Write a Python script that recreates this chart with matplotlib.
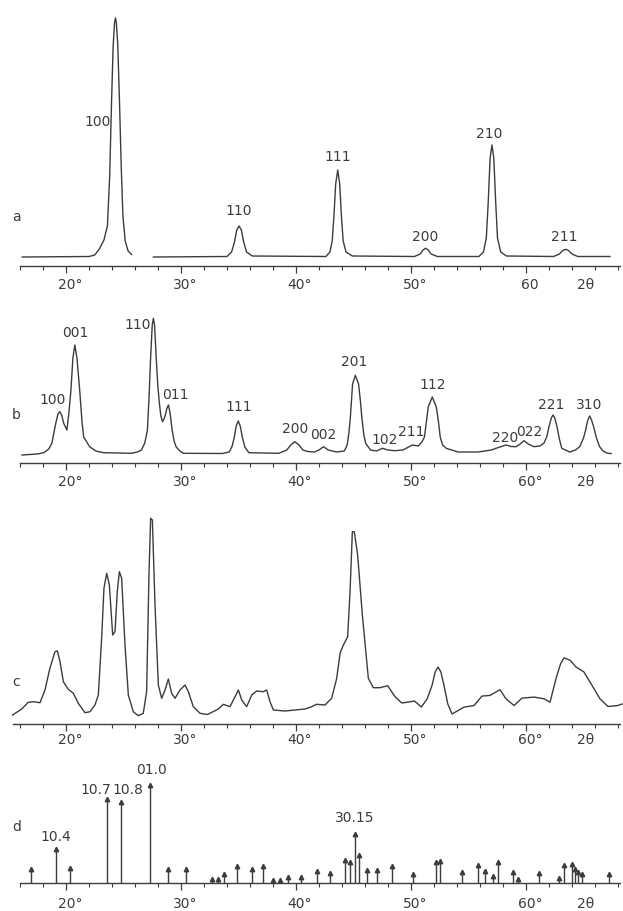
import numpy as np
import matplotlib
matplotlib.use("Agg")
import matplotlib.pyplot as plt

plt.rcParams['font.family'] = ['DejaVu Sans']

INK = '#3c3c3c'
NAN = np.nan

# ---- panel a: diffraction trace (2theta in degrees, intensity) ----
a_theta = [16.2, 22.0, 22.5, 22.9, 23.3, 23.6, 23.8, 23.95, 24.1, 24.22, 24.3, 24.38, 24.5, 24.65,
           24.8, 24.95, 25.15, 25.4, 25.7, NAN, 27.6, 34.0, 34.4, 34.65, 34.85, 35.05, 35.25, 35.45,
           35.7, 36.2, 42.6, 42.95, 43.15, 43.3, 43.45, 43.63, 43.8, 43.95, 44.1, 44.35, 44.9,
           50.3, 50.8, 51.05, 51.26, 51.5, 51.75, 52.3, 55.9, 56.3, 56.55, 56.72, 56.88, 57.04,
           57.2, 57.36, 57.52, 57.8, 58.3, 62.4, 62.9, 63.2, 63.45, 63.7, 64.0, 64.5, 67.3]
a_int = [9, 9.5, 11, 17, 26, 40, 90, 160, 220, 243, 248, 243, 222, 165,
         100, 50, 25, 15, 11.5, NAN, 9, 9.5, 14, 24, 36, 40, 36, 24,
         14, 10, 9.5, 14, 25, 50, 82, 96, 82, 50, 25, 14, 10,
         9.5, 12, 16, 17.7, 16, 12, 9.5, 9.5, 14, 28, 65, 108, 121,
         108, 65, 28, 14, 10, 9.5, 12, 15.5, 16.7, 15.5, 12, 9.5, 9.5]
a_labels = ['100', '110', '111', '200', '210', '211']
a_label_theta = [22.75, 35.05, 43.63, 51.2, 56.8, 63.3]
a_label_int = [144, 55, 109, 29, 132, 29]

# ---- panel b ----
b_theta = [16.17, 17.5, 18.07, 18.5, 18.77, 19.11, 19.3, 19.46, 19.62, 19.8, 20.08, 20.25, 20.43,
           20.6, 20.77, 20.95, 21.19, 21.4, 21.54, 22.05, 22.6, 23.27, 25.7, 26.2, 26.56, 26.85,
           27.08, 27.22, 27.36, 27.5, 27.6, 27.7, 27.84, 27.98, 28.12, 28.25, 28.39, 28.52, 28.64,
           28.78, 28.91, 29.05, 29.23, 29.4, 29.57, 29.9, 30.2, 33.6, 34.2, 34.45, 34.64, 34.8,
           34.98, 35.15, 35.33, 35.55, 35.9, 38.5, 39.2, 39.55, 39.9, 40.25, 40.6, 41.0, 41.62,
           42.0, 42.39, 42.8, 43.53, 44.2, 44.45, 44.6, 44.73, 44.92, 45.16, 45.44, 45.6, 45.72,
           45.9, 46.06, 46.48, 47.0, 47.52, 48.0, 48.56, 49.3, 49.8, 50.12, 50.63, 50.95, 51.17,
           51.35, 51.5, 51.85, 52.2, 52.38, 52.54, 52.75, 53.06, 54.1, 55.83, 57.0, 57.39, 58.26,
           58.7, 59.13, 59.5, 59.82, 60.2, 60.69, 61.2, 61.55, 61.8, 62.0, 62.2, 62.35, 62.5,
           62.7, 62.9, 63.11, 63.8, 64.3, 64.67, 65.0, 65.19, 65.35, 65.53, 65.7, 65.88, 66.1,
           66.4, 66.7, 67.1, 67.4]
b_int = [8, 9, 10.3, 14, 19.7, 39.7, 49, 51.3, 48, 39.7, 33, 50, 73,
         105, 118, 105, 73, 40, 26, 16.3, 12, 10.3, 9.7, 11, 13, 20,
         33, 65, 106, 138, 144.7, 138, 106, 78, 59.7, 47, 41.3, 44, 48,
         55, 58, 50, 33, 22, 16.3, 12, 9.7, 9.5, 11, 17, 26, 37,
         42, 37, 26, 16, 10.3, 9.7, 13, 18, 21.3, 18, 13, 11.5, 11,
         13, 16.3, 13, 11, 12, 18, 30, 46, 79, 87.7, 79, 62, 46,
         28, 19.7, 13, 12, 14.7, 13, 12.3, 13, 16, 18, 17, 21, 26,
         42, 56, 66, 56, 42, 26, 18, 14.7, 11, 11, 13, 14.7, 18,
         16.5, 16.3, 19, 22.3, 19, 16.3, 17, 19.7, 26, 36.3, 45, 48, 45,
         36.3, 24, 14.7, 11, 13, 16.3, 25, 33, 42, 47, 43, 36.3, 26,
         16.3, 12, 9.7, 9.5]
b_labels = ['100', '001', '110', '011', '111', '200', '002', '201', '102', '211', '112',
            '220', '022', '221', '310']
b_label_theta = [18.8, 20.8, 26.25, 29.5, 34.98, 39.9, 42.4, 45.1, 47.7, 50.0, 51.85,
                 58.2, 60.3, 62.2, 65.5]
b_label_int = [63, 130, 138, 68, 56, 34, 28, 101, 23, 31, 78, 25, 31, 58, 58]

# ---- panel c ----
c_theta = [15.36, 16.15, 16.72, 17.16, 17.74, 18.17, 18.6, 19.04, 19.25, 19.48, 19.77, 20.2,
           20.64, 21.07, 21.65, 22.09, 22.52, 22.81, 23.1, 23.3, 23.54, 23.77, 24.06, 24.26,
           24.46, 24.64, 24.84, 25.13, 25.42, 25.85, 26.29, 26.72, 27.01, 27.22, 27.36, 27.51,
           27.74, 28.03, 28.32, 28.61, 28.9, 29.19, 29.48, 29.91, 30.35, 30.64, 31.07, 31.65,
           32.3, 33.25, 33.68, 34.26, 34.7, 34.99, 35.28, 35.71, 36.15, 36.58, 37.16, 37.45,
           37.74, 38.03, 39.04, 40.78, 41.36, 41.8, 42.52, 43.1, 43.54, 43.83, 44.12, 44.49,
           44.7, 44.9, 45.07, 45.36, 45.77, 46.29, 46.72, 47.3, 47.97, 48.61, 49.2, 49.8, 50.3,
           50.9, 51.4, 51.83, 52.1, 52.35, 52.6, 52.87, 53.2, 53.57, 54.6, 55.48, 56.17, 56.87,
           57.74, 58.26, 58.96, 59.65, 60.7, 61.57, 62.09, 62.61, 63.0, 63.3, 63.83, 64.35,
           65.04, 65.74, 66.43, 67.13, 68.0, 68.35]
c_int = [9, 15, 21.7, 22.3, 21.3, 34, 55.7, 72.3, 73, 62.3, 42.3, 34.7,
         30.7, 20.7, 11.3, 12.3, 19, 29, 85.7, 135.7, 150.7, 139, 89, 92.3,
         132.3, 152.3, 145.7, 79, 29, 12.3, 8.3, 10.7, 32.3, 152, 205.7, 204,
         119, 39, 25.7, 34, 45, 30.7, 25.7, 34, 39, 32.3, 17.3, 10.7,
         9.5, 15, 19.7, 17.3, 27.3, 34, 24, 17.3, 29, 33, 32.3, 34,
         22.3, 14, 13, 15, 17.3, 19.7, 19, 25.7, 45.7, 70.7, 79, 87.3,
         132.3, 192.3, 192.3, 169, 109, 45.7, 36.3, 36.3, 38.3, 27.3, 21, 22, 23,
         17, 25, 38.6, 52, 57, 52, 38.6, 20, 10, 16.8, 18.5, 27.9, 28.6,
         34.3, 25.2, 18.5, 25.9, 26.9, 25.2, 21.8, 45.4, 60, 66.2, 63.8, 57,
         52, 38.6, 25.2, 17.5, 18.5, 20]

# ---- panel d: reference line positions and relative intensities ----
d_theta = [17.0, 19.1, 20.35, 23.55, 24.8, 27.3, 28.9, 30.4, 32.7, 33.2, 33.7, 34.9, 36.2,
           37.1, 38.0, 38.6, 39.3, 40.4, 41.8, 42.95, 44.3, 44.7, 45.1, 45.5, 46.2, 47.05,
           48.35, 50.2, 52.2, 52.5, 54.4, 55.8, 56.4, 57.1, 57.55, 58.9, 59.3, 61.1, 62.9,
           63.3, 64.0, 64.3, 64.5, 64.9, 67.2]
d_int = [14, 34, 15, 84, 81, 98, 14, 14, 4, 4, 9, 17, 14,
         17, 3, 3, 6, 6, 12, 10, 23, 21, 49, 28, 13, 13,
         17, 9, 21, 22, 11, 18, 12, 7, 21, 11, 4, 10, 5,
         18, 19, 14, 11, 9, 9]
d_labels = ['10.4', '10.7', '10.8', '01.0', '30.15']
d_label_theta = [19.13, 22.6, 25.4, 27.4, 45.1]
d_label_int = [46, 93, 93, 113, 65]

tick_major = [20, 30, 40, 50, 60]
tick_text = ['20°', '30°', '40°', '50°', '60°']
tick_text_a = ['20°', '30°', '40°', '50°', '60']

# ---- layout (pixel-based, 1 y unit = 1 px) ----
W, H = 623, 911
X0, X1 = 20 + (0 - 66) / 11.5, 20 + (W - 66) / 11.5
fig = plt.figure(figsize=(W / 100, H / 100), dpi=100)


def panel(axis_px, top_px, letter, letter_int, ticktxt, label_off, left=16.0):
    ax = fig.add_axes([0, (H - axis_px) / H, 1, (axis_px - top_px) / H])
    ax.set_xlim(X0, X1)
    ax.set_ylim(0, axis_px - top_px)
    for s in ('top', 'right', 'left'):
        ax.spines[s].set_visible(False)
    ax.spines['bottom'].set_color(INK)
    ax.spines['bottom'].set_linewidth(1.0)
    ax.spines['bottom'].set_bounds(left, 68.2)
    ax.set_yticks([])
    ax.set_xticks(tick_major)
    ax.set_xticks(np.arange(16, 69, 2), minor=True)
    ax.set_xticklabels([])
    ax.tick_params(axis='x', which='major', length=5, width=0.9, color=INK, direction='out')
    ax.tick_params(axis='x', which='minor', length=3, width=0.8, color=INK, direction='out')
    ax.patch.set_alpha(0)
    for t, s in zip(tick_major, ticktxt):
        ax.text(t + 0.35, -label_off, s, ha='center', va='center', fontsize=10, color=INK)
    ax.text(65.2, -label_off, '2θ', ha='center', va='center', fontsize=10, color=INK)
    ax.text(15.7, letter_int, letter, ha='center', va='center', fontsize=10, color=INK)
    return ax


ax_a = panel(266, 10, 'a', 49, tick_text_a, 19)
ax_a.plot(a_theta, a_int, color=INK, lw=1.0)
for s, t, v in zip(a_labels, a_label_theta, a_label_int):
    ax_a.text(t, v, s, ha='center', va='center', fontsize=10, color=INK)

ax_b = panel(463, 300, 'b', 48, tick_text, 19)
ax_b.plot(b_theta, b_int, color=INK, lw=1.0)
for s, t, v in zip(b_labels, b_label_theta, b_label_int):
    ax_b.text(t, v, s, ha='center', va='center', fontsize=10, color=INK)

ax_c = panel(724, 505, 'c', 42, tick_text, 16, left=15.4)
ax_c.plot(c_theta, c_int, color=INK, lw=1.0)

ax_d = panel(883, 760, 'd', 56, tick_text, 21)
ax_d.vlines(d_theta, 0, d_int, color=INK, lw=1.0)
ax_d.plot(d_theta, d_int, linestyle='none', marker='^', markersize=3.2, color=INK)
for s, t, v in zip(d_labels, d_label_theta, d_label_int):
    ax_d.text(t, v, s, ha='center', va='center', fontsize=10, color=INK)

fig.savefig('out.png', dpi=100)
